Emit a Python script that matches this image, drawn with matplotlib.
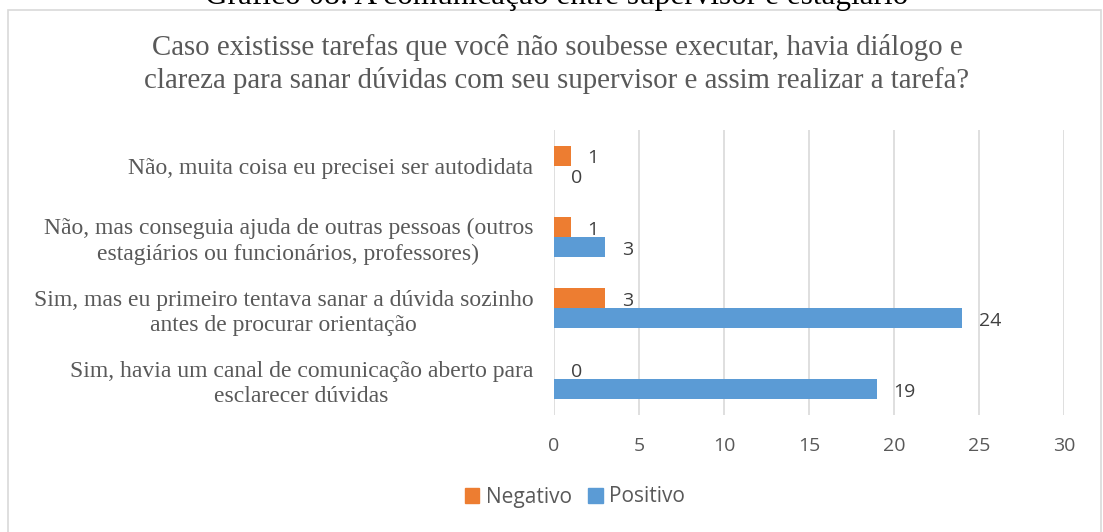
import matplotlib.pyplot as plt
from matplotlib.patches import Rectangle, Patch

# dados (de baixo para cima)
categorias = [
    'Sim, havia um canal de comunicação aberto para\nesclarecer dúvidas',
    'Sim, mas eu primeiro tentava sanar a dúvida sozinho\nantes de procurar orientação',
    'Não, mas conseguia ajuda de outras pessoas (outros\nestagiários ou funcionários, professores)',
    'Não, muita coisa eu precisei ser autodidata',
]
negativo = [0, 3, 1, 1]
positivo = [19, 24, 3, 0]

cor_neg = '#ED7D31'
cor_pos = '#5B9BD5'
cinza = '#595959'
serif = 'Liberation Serif'
sans = 'Open Sans'

W, H = 1103, 532
fig = plt.figure(figsize=(W / 100, H / 100), dpi=100)

# moldura do gráfico
fig.patches.append(Rectangle((8 / W, -0.1), (1101 - 8) / W, 1.1 - 10 / H,
                             transform=fig.transFigure, fill=False,
                             edgecolor='#D9D9D9', lw=1.2))

fig.text(557 / W, 1 - 4 / H, 'Gráfico 08: A comunicação entre supervisor e estagiário',
         ha='center', va='baseline', fontsize=22.5, family=serif, color='black')
fig.text(557 / W, 1 - 64 / H,
         'Caso existisse tarefas que você não soubesse executar, havia diálogo e\n'
         'clareza para sanar dúvidas com seu supervisor e assim realizar a tarefa?',
         ha='center', va='center', fontsize=20.8, family=serif, color=cinza,
         linespacing=1.3)

ax = fig.add_axes([554 / W, 1 - 415 / H, (1064 - 554) / W, (415 - 130) / H])
y = list(range(len(categorias)))
h = 0.28
ax.barh([i + h / 2 for i in y], negativo, height=h, color=cor_neg, label='Negativo')
ax.barh([i - h / 2 for i in y], positivo, height=h, color=cor_pos, label='Positivo')

for i in y:
    ax.annotate(str(negativo[i]), (negativo[i], i + h / 2), xytext=(12, -2),
                textcoords='offset points', ha='left', va='center',
                fontsize=14, family=sans, color='#404040')
    ax.annotate(str(positivo[i]), (positivo[i], i - h / 2), xytext=(12, -2),
                textcoords='offset points', ha='left', va='center',
                fontsize=14, family=sans, color='#404040')

ax.set_xlim(0, 30)
ax.set_ylim(-0.5, 3.5)
ax.set_xticks(range(0, 31, 5))
ax.set_yticks(y)
ax.set_yticklabels(categorias, family=serif, fontsize=17, color=cinza,
                   multialignment='center', linespacing=1.25)
for t in ax.get_xticklabels():
    t.set_family(sans)
    t.set_fontsize(14)
    t.set_color(cinza)
ax.tick_params(axis='x', length=0, pad=16)
ax.tick_params(axis='y', length=0, pad=15)
ax.grid(axis='x', color='#D9D9D9', lw=1.2)
ax.set_axisbelow(True)
for s in ax.spines.values():
    s.set_visible(False)

handles = [Patch(color=cor_neg), Patch(color=cor_pos)]
fig.legend(handles, ['Negativo', 'Positivo'], loc='center',
           bbox_to_anchor=(575 / W, 1 - 497 / H), ncol=2, frameon=False,
           handlelength=0.7, handleheight=0.7, handletextpad=0.3,
           columnspacing=0.8, prop={'family': sans, 'size': 15},
           labelcolor=cinza)

fig.savefig('out.png', dpi=100)
